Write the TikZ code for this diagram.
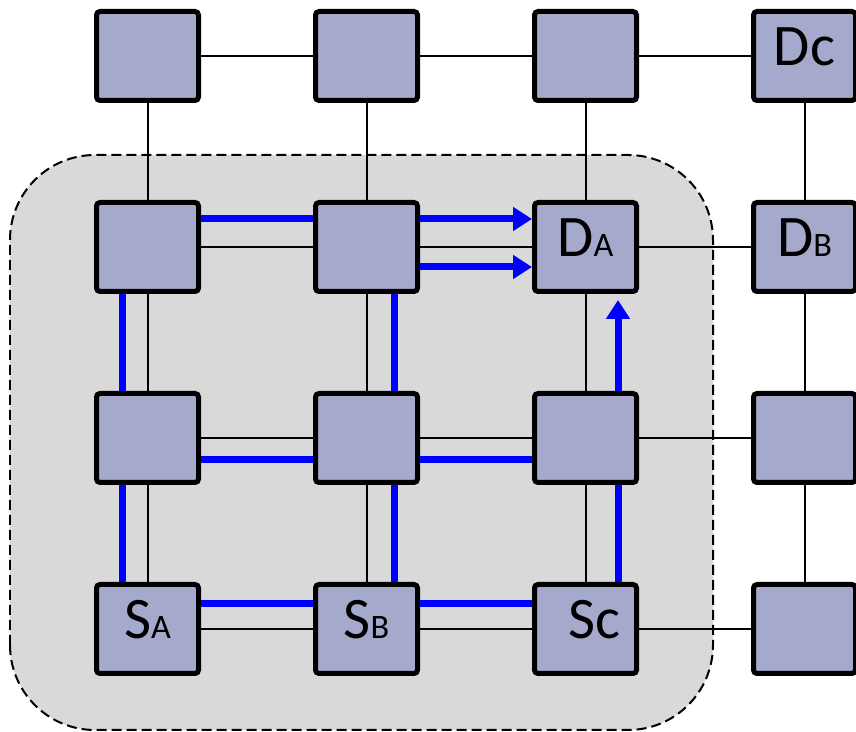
\documentclass[tikz,border=0pt]{standalone}
\usepackage{fontspec}
\setmainfont{Carlito}
\usetikzlibrary{arrows.meta,calc}
\definecolor{nocfill}{RGB}{165,169,203}
\definecolor{nocregion}{RGB}{217,217,217}
\definecolor{nocblue}{RGB}{0,0,255}
\newcommand{\tilelabel}[2]{#1{\fontsize{19.5}{20}\selectfont #2}}

\begin{document}
\begin{tikzpicture}[
  font=\fontsize{33.5}{36}\selectfont,
  router/.style={draw=black,line width=.1cm,rounded corners=2pt,fill=nocfill,
    minimum width=2.04cm,minimum height=1.78cm,inner sep=0pt,
    text height=.76cm,text depth=.36cm},
  region/.style={draw=black,fill=nocregion,line width=.04cm,
    dash pattern=on .2cm off .1cm,rounded corners=1.7cm},
  link/.style={draw=black,line width=.04cm},
  route/.style={draw=nocblue,line width=.14cm},
  goal/.style={route,-{Triangle[length=.38cm,width=.46cm]}}
]
\useasboundingbox (0,0) rectangle (17.12,14.64);

\draw[region] (.2,.04) rectangle (14.26,11.54);

\node[router] (r1c1) at (2.95,13.52) {};
\node[router] (r1c2) at (7.33,13.52) {};
\node[router] (r1c3) at (11.71,13.52) {};
\node[router] (dc) at (16.09,13.52) {Dc};
\node[router] (r2c1) at (2.95,9.70) {};
\node[router] (r2c2) at (7.33,9.70) {};
\node[router] (da) at (11.71,9.70) {\tilelabel{D}{A}};
\node[router] (db) at (16.09,9.70) {\tilelabel{D}{B}};
\node[router] (r3c1) at (2.95,5.88) {};
\node[router] (r3c2) at (7.33,5.88) {};
\node[router] (r3c3) at (11.71,5.88) {};
\node[router] (r3c4) at (16.09,5.88) {};
\node[router] (sa) at (2.95,2.06) {\tilelabel{S}{A}};
\node[router] (sb) at (7.33,2.06) {\tilelabel{S}{B}};
\node[router,text width=1.4cm,align=right] (sc) at (11.71,2.06) {Sc};
\node[router] (r4c4) at (16.09,2.06) {};

% mesh links
\draw[link] (r1c1) -- (r1c2) (r1c2) -- (r1c3) (r1c3) -- (dc);
\draw[link] (r2c1) -- (r2c2) (r2c2) -- (da) (da) -- (db);
\draw[link] (r3c1) -- (r3c2) (r3c2) -- (r3c3) (r3c3) -- (r3c4);
\draw[link] (sa) -- (sb) (sb) -- (sc) (sc) -- (r4c4);
\draw[link] (r1c1) -- (r2c1) (r2c1) -- (r3c1) (r3c1) -- (sa);
\draw[link] (r1c2) -- (r2c2) (r2c2) -- (r3c2) (r3c2) -- (sb);
\draw[link] (r1c3) -- (da) (da) -- (r3c3) (r3c3) -- (sc);
\draw[link] (dc) -- (db) (db) -- (r3c4) (r3c4) -- (r4c4);

% routes from the sources
\draw[route] ($(sa.east)+(0,.51)$) -- ($(sb.west)+(0,.51)$);
\draw[route] ($(sb.east)+(0,.51)$) -- ($(sc.west)+(0,.51)$);
\draw[route] ($(sa.north)+(-.51,0)$) -- ($(r3c1.south)+(-.51,0)$);
\draw[route] ($(r3c1.north)+(-.51,0)$) -- ($(r2c1.south)+(-.51,0)$);
\draw[route] ($(r2c1.east)+(0,.56)$) -- ($(r2c2.west)+(0,.56)$);
\draw[goal] ($(r2c2.east)+(0,.56)$) -- ($(da.west)+(0,.56)$);
\draw[route] ($(sb.north)+(.55,0)$) -- ($(r3c2.south)+(.55,0)$);
\draw[route] ($(r3c2.north)+(.55,0)$) -- ($(r2c2.south)+(.55,0)$);
\draw[goal] ($(r2c2.east)+(0,-.40)$) -- ($(da.west)+(0,-.40)$);
\draw[route] ($(r3c1.east)+(0,-.44)$) -- ($(r3c2.west)+(0,-.44)$);
\draw[route] ($(r3c2.east)+(0,-.44)$) -- ($(r3c3.west)+(0,-.44)$);
\draw[route] ($(sc.north)+(.65,0)$) -- ($(r3c3.south)+(.65,0)$);
\draw[goal,shorten >=.12cm] ($(r3c3.north)+(.65,0)$) -- ($(da.south)+(.65,0)$);
\end{tikzpicture}
\end{document}
